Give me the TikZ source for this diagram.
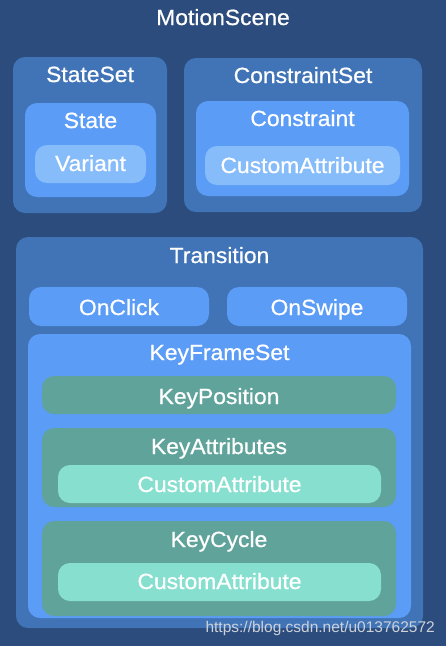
\documentclass[tikz,border=0pt]{standalone}
\usepackage{fontspec}
\setmainfont{Liberation Sans}
\newfontfamily\lblfont{Liberation Sans}[FakeBold=0.7,FakeStretch=1.04]
\definecolor{bgblue}{HTML}{2B4C7C}
\definecolor{midblue}{HTML}{4174B6}
\definecolor{brblue}{HTML}{5B9CF6}
\definecolor{ltblue}{HTML}{86BCFA}
\definecolor{dgreen}{HTML}{5FA39B}
\definecolor{mint}{HTML}{87E0CF}
\definecolor{wmark}{HTML}{CDD2DA}
\begin{document}
\begin{tikzpicture}[x=1pt,y=-1pt,
  box/.style={draw=none,rounded corners=12pt,inner sep=0pt,anchor=center},
  lbl/.style={text=white,anchor=base,inner sep=0pt,font=\lblfont\fontsize{22}{24}\selectfont},
  wm/.style={text=wmark,anchor=base east,inner sep=0pt,font=\fontsize{15.5}{17}\selectfont}]
\fill[bgblue] (0,0) rectangle (446,646);
\useasboundingbox (0,0) rectangle (446,646);
\node[lbl] (msl) at (223,25) {MotionScene};
% StateSet
\node[box,fill=midblue,minimum width=154pt,minimum height=156pt] (stateset) at (90,135) {};
\node[lbl] (statesetl) at (90,82) {StateSet};
\node[box,fill=brblue,minimum width=131pt,minimum height=94pt] (state) at (90.5,150) {};
\node[lbl] (statel) at (90.5,128) {State};
\node[box,fill=ltblue,minimum width=111pt,minimum height=38pt] (variant) at (90.5,164) {};
\node[lbl] (variantl) at (90.5,171) {Variant};
% ConstraintSet
\node[box,fill=midblue,minimum width=238pt,minimum height=154pt] (cset) at (303,135) {};
\node[lbl] (csetl) at (303,83) {ConstraintSet};
\node[box,fill=brblue,minimum width=213pt,minimum height=95pt] (cons) at (302.5,148.5) {};
\node[lbl] (consl) at (302.5,126) {Constraint};
\node[box,fill=ltblue,minimum width=195pt,minimum height=39pt] (ca1) at (302.5,165.5) {};
\node[lbl] (ca1l) at (302.5,173) {CustomAttribute};
% Transition
\node[box,fill=midblue,minimum width=407pt,minimum height=391pt] (trans) at (219.5,432.5) {};
\node[lbl] (transl) at (219.5,263) {Transition};
\node[box,fill=brblue,minimum width=180pt,minimum height=39pt] (onclick) at (119,306.5) {};
\node[lbl] (onclickl) at (119,315) {OnClick};
\node[box,fill=brblue,minimum width=180pt,minimum height=39pt] (onswipe) at (317,306.5) {};
\node[lbl] (onswipel) at (317,315) {OnSwipe};
\node[box,fill=brblue,minimum width=383pt,minimum height=284pt] (kfs) at (219.5,476) {};
\node[lbl] (kfsl) at (219.5,360) {KeyFrameSet};
\node[box,fill=dgreen,minimum width=354pt,minimum height=38pt] (kpos) at (219,395) {};
\node[lbl] (kposl) at (219,404) {KeyPosition};
\node[box,fill=dgreen,minimum width=354pt,minimum height=79pt] (katt) at (219,467.5) {};
\node[lbl] (kattl) at (219,454) {KeyAttributes};
\node[box,fill=mint,minimum width=323pt,minimum height=38pt] (ca2) at (219.5,484) {};
\node[lbl] (ca2l) at (219.5,492) {CustomAttribute};
\node[box,fill=dgreen,minimum width=354pt,minimum height=95pt] (kcyc) at (219,568.5) {};
\node[lbl] (kcycl) at (219,547) {KeyCycle};
\node[box,fill=mint,minimum width=323pt,minimum height=38pt] (ca3) at (219.5,582) {};
\node[lbl] (ca3l) at (219.5,589) {CustomAttribute};
% watermark
\node[wm] (wmk) at (435,632) {https://blog.csdn.net/u013762572};
\end{tikzpicture}
\end{document}
